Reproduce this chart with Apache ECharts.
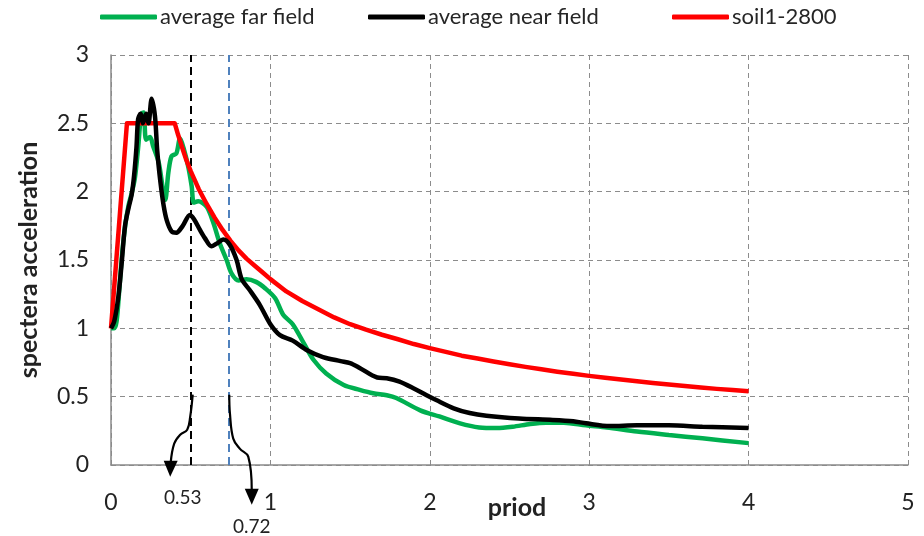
<!DOCTYPE html>
<html><head><meta charset="utf-8">
<script src="https://cdn.jsdelivr.net/npm/echarts@6/dist/echarts.min.js"></script>
<style>html,body{margin:0;padding:0;background:#fff}#c{width:924px;height:536px}</style>
</head><body><div id="c"></div>
<script>
// ---- data ----
const seriesNames = ['average far field', 'average near field', 'soil1-2800'];
const xTicks = [0, 1, 2, 3, 4, 5];
const yTicks = [0, 0.5, 1, 1.5, 2, 2.5, 3];

// [period, spectral acceleration]
const farField = [
  [0,1.0],[0.02,1.0],[0.035,1.05],[0.05,1.25],[0.07,1.55],[0.09,1.76],[0.11,1.9],[0.13,1.99],
  [0.15,2.1],[0.17,2.32],[0.19,2.57],[0.205,2.58],[0.22,2.38],[0.245,2.40],[0.265,2.33],
  [0.30,2.21],[0.34,1.94],[0.36,2.14],[0.38,2.26],[0.41,2.28],[0.433,2.39],[0.455,2.32],
  [0.485,2.18],[0.506,2.04],[0.52,1.92],[0.547,1.93],[0.6,1.89],[0.64,1.78],[0.683,1.62],
  [0.725,1.50],[0.757,1.40],[0.80,1.35],[0.85,1.36],[0.91,1.34],[0.97,1.29],[1.03,1.22],
  [1.08,1.10],[1.14,1.03],[1.21,0.89],[1.27,0.77],[1.35,0.67],[1.46,0.585],[1.56,0.55],
  [1.645,0.525],[1.73,0.51],[1.79,0.49],[1.94,0.40],[2.06,0.355],[2.19,0.305],[2.31,0.275],
  [2.42,0.27],[2.52,0.28],[2.63,0.30],[2.73,0.31],[2.84,0.31],[2.98,0.29],[3.11,0.275],
  [3.30,0.245],[3.50,0.22],[3.71,0.195],[4.0,0.16]
];
const nearField = [
  [0,1.0],[0.02,1.05],[0.045,1.22],[0.065,1.45],[0.088,1.75],[0.11,1.88],[0.13,1.98],
  [0.145,2.12],[0.16,2.33],[0.17,2.53],[0.185,2.57],[0.2,2.5],[0.22,2.57],[0.235,2.5],
  [0.255,2.68],[0.276,2.55],[0.29,2.3],[0.31,2.07],[0.33,1.9],[0.35,1.79],[0.38,1.71],
  [0.41,1.70],[0.45,1.75],[0.495,1.83],[0.52,1.80],[0.558,1.72],[0.589,1.66],[0.63,1.60],
  [0.663,1.62],[0.705,1.65],[0.746,1.61],[0.788,1.50],[0.82,1.36],[0.87,1.28],[0.934,1.17],
  [1.0,1.03],[1.06,0.95],[1.14,0.91],[1.23,0.84],[1.33,0.79],[1.44,0.76],[1.50,0.745],
  [1.56,0.71],[1.67,0.64],[1.73,0.635],[1.81,0.61],[1.90,0.56],[1.98,0.51],[2.04,0.475],
  [2.15,0.415],[2.25,0.38],[2.355,0.36],[2.56,0.34],[2.77,0.33],[2.90,0.32],[2.98,0.305],
  [3.13,0.285],[3.30,0.29],[3.50,0.29],[3.71,0.28],[4.0,0.27]
];
const soil2800 = [
  [0,1.0],[0.1,2.5],[0.4,2.5],[0.42,2.42],[0.45,2.31],[0.47,2.24],[0.5,2.15],[0.55,2.02],
  [0.6,1.91],[0.65,1.81],[0.7,1.72],[0.75,1.64],[0.8,1.57],[0.85,1.51],[0.9,1.46],[0.95,1.41],
  [1.0,1.36],[1.1,1.27],[1.2,1.20],[1.3,1.14],[1.4,1.08],[1.5,1.03],[1.6,0.99],[1.7,0.953],
  [1.8,0.92],[1.9,0.885],[2.0,0.855],[2.1,0.828],[2.2,0.80],[2.3,0.779],[2.4,0.757],[2.5,0.737],
  [2.6,0.718],[2.7,0.70],[2.8,0.683],[2.9,0.667],[3.0,0.652],[3.1,0.639],[3.2,0.625],[3.3,0.612],
  [3.4,0.60],[3.5,0.589],[3.6,0.578],[3.7,0.567],[3.8,0.557],[3.9,0.548],[4.0,0.54]
];
const markPeriods = [0.5, 0.745];      // dashed vertical reference lines
const markLabels = ['0.53', '0.72'];   // annotation texts

// ---- chart ----
const FONT = 'Lato, "Liberation Sans", sans-serif';
const chart = echarts.init(document.getElementById('c'), null, {renderer: 'canvas'});
const gridDash = [5, 4];
const legendLefts = [100, 368, 672];

const legends = seriesNames.map((n, i) => ({
  top: 6, left: legendLefts[i], padding: 0,
  itemWidth: 57, itemHeight: 5,
  icon: 'roundRect',
  textStyle: {fontFamily: FONT, fontSize: 22, color: '#262626', padding: [0, 0, 0, -2]},
  data: [n]
}));

chart.setOption({
  animation: false,
  backgroundColor: '#fff',
  textStyle: {fontFamily: FONT},
  legend: legends,
  grid: {left: 111, right: 16, top: 55, bottom: 71, containLabel: false, outerBoundsMode: 'none'},
  xAxis: {
    type: 'value', min: xTicks[0], max: xTicks[xTicks.length - 1], interval: 1,
    name: 'priod', nameLocation: 'middle', nameGap: 30, nameMoveOverlap: false,
    nameTextStyle: {fontFamily: FONT, fontSize: 25, fontWeight: 'bold', color: '#222', padding: [0, 0, 0, 15]},
    axisLine: {lineStyle: {color: '#8a8a8a', width: 1.5}},
    axisTick: {show: false},
    axisLabel: {margin: 26, fontFamily: FONT, fontSize: 23, color: '#222'},
    splitLine: {show: true, lineStyle: {type: gridDash, color: '#8c8c8c', width: 1}}
  },
  yAxis: {
    type: 'value', min: yTicks[0], max: yTicks[yTicks.length - 1], interval: 0.5,
    name: 'spectera acceleration', nameLocation: 'middle', nameGap: 70, nameRotate: 90,
    nameMoveOverlap: false,
    nameTextStyle: {fontFamily: FONT, fontSize: 25, fontWeight: 'bold', color: '#222'},
    axisLine: {show: true, lineStyle: {color: '#8a8a8a', width: 1.5}},
    axisTick: {show: false},
    axisLabel: {margin: 22, fontFamily: FONT, fontSize: 23, color: '#222'},
    splitLine: {show: true, lineStyle: {type: gridDash, color: '#8c8c8c', width: 1}}
  },
  series: [
    {
      name: seriesNames[0], type: 'line', data: farField, showSymbol: false, symbol: 'none',
      smooth: 0.3, z: 2, color: '#00B050', lineStyle: {width: 4.5, color: '#00B050'}
    },
    {
      name: seriesNames[1], type: 'line', data: nearField, showSymbol: false, symbol: 'none',
      smooth: 0.3, z: 4, color: '#000000', lineStyle: {width: 4.5, color: '#000000'}
    },
    {
      name: seriesNames[2], type: 'line', data: soil2800, showSymbol: false, symbol: 'none',
      smooth: false, z: 3, color: '#FF0000', lineStyle: {width: 4.5, color: '#FF0000', join: 'round'},
      markLine: {
        silent: true, symbol: ['none', 'none'], label: {show: false}, z: 1,
        data: [
          {xAxis: markPeriods[0], lineStyle: {type: [8, 5], color: '#000', width: 2}},
          {xAxis: markPeriods[1], lineStyle: {type: [8, 5], color: '#4F81BD', width: 2}}
        ]
      }
    }
  ]
});

// ---- curved arrow annotations anchored to the reference lines ----
function arrowGraphic(anchor, pts, head, label, labelOff) {
  const [ax, ay] = chart.convertToPixel({gridIndex: 0}, anchor);
  const P = pts.map(p => [ax + p[0], ay + p[1]]);
  const H = head.map(p => [ax + p[0], ay + p[1]]);
  return [
    {type: 'polyline', shape: {points: P, smooth: 0.4}, style: {stroke: '#000', lineWidth: 2.2, fill: null}, z: 100},
    {type: 'polygon', shape: {points: H}, style: {fill: '#000'}, z: 100},
    {type: 'text', x: ax + labelOff[0], y: ay + labelOff[1],
      style: {text: label, fill: '#222', font: '19px ' + FONT, align: 'center', verticalAlign: 'middle'}, z: 100}
  ];
}
const g1 = arrowGraphic([markPeriods[0], 0.5],
  [[2, -2], [-0.5, 20], [-3.5, 33], [-10.5, 38], [-16.5, 47], [-20, 66]],
  [[-27, 64], [-13, 64], [-20.5, 80]], markLabels[0], [-8, 101]);
const g2 = arrowGraphic([markPeriods[1], 0.5],
  [[-0.5, -2], [0.2, 17], [3.5, 42], [10, 52], [18.5, 60], [22, 94]],
  [[15, 92], [29, 92], [22, 108]], markLabels[1], [22, 130]);
chart.setOption({graphic: {elements: g1.concat(g2)}});
</script>
</body></html>
